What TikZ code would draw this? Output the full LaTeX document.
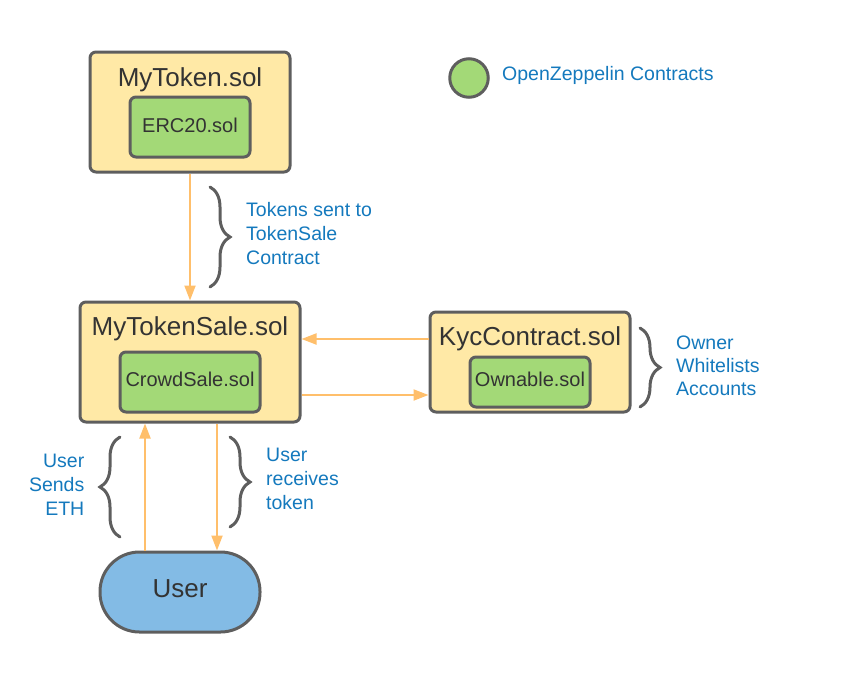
\documentclass[tikz,border=0pt]{standalone}
\usepackage{fontspec}
\setmainfont{Liberation Sans}
\usetikzlibrary{arrows.meta,decorations.pathreplacing}
\definecolor{boxyellow}{HTML}{FFE9A6}
\definecolor{boxgreen}{HTML}{A3D977}
\definecolor{boxblue}{HTML}{83BBE5}
\definecolor{edgegray}{HTML}{5E5E5E}
\definecolor{flow}{HTML}{FFBF6B}
\definecolor{labelblue}{HTML}{1479BD}
\definecolor{textdark}{HTML}{333333}
\begin{document}
\begin{tikzpicture}[x=1pt,y=-1pt,
  outerbox/.style={draw=edgegray,fill=boxyellow,line width=3pt,rounded corners=6pt,inner sep=0pt},
  innerbox/.style={draw=edgegray,fill=boxgreen,line width=3pt,rounded corners=6pt,inner sep=0pt,
     text=textdark,font=\fontsize{20}{24}\selectfont},
  titletext/.style={text=textdark,font=\fontsize{26}{30}\selectfont,inner sep=0pt,anchor=base},
  innertext/.style={text=textdark,font=\fontsize{20}{24}\selectfont,inner sep=0pt,anchor=base},
  note/.style={text=labelblue,font=\fontsize{19.5}{24}\selectfont,inner sep=0pt},
  flowarrow/.style={draw=flow,line width=2pt,-{Triangle[width=11pt,length=15pt]}},
  bracestyle/.style={draw=edgegray,line width=3pt,line cap=round,decorate,decoration={brace,amplitude=20pt}}]
\useasboundingbox (0,0) rectangle (850,672);

% MyToken
\node[outerbox,minimum width=200pt,minimum height=120pt] (mytoken) at (190,112) {};
\node[titletext] (mytokent) at (190,86) {MyToken.sol};
\node[innerbox,minimum width=120pt,minimum height=60pt] (erc) at (190,127) {};
\node[innertext] (erct) at (190,132) {ERC20.sol};

% MyTokenSale
\node[outerbox,minimum width=220pt,minimum height=120pt] (mts) at (190,362) {};
\node[titletext] (mtst) at (190,335) {MyTokenSale.sol};
\node[innerbox,minimum width=140pt,minimum height=60pt] (crowd) at (190,382) {};
\node[innertext] (crowdt) at (190,386) {CrowdSale.sol};

% KycContract
\node[outerbox,minimum width=200pt,minimum height=100pt] (kyc) at (530,362) {};
\node[titletext] (kyct) at (530,345) {KycContract.sol};
\node[innerbox,minimum width=120pt,minimum height=50pt] (own) at (530,382) {};
\node[innertext] (ownt) at (530,386) {Ownable.sol};

% User
\node[draw=edgegray,fill=boxblue,line width=3pt,rounded corners=39.5pt,inner sep=0pt,
  minimum width=160pt,minimum height=80pt] (user) at (180,592) {};
\node[titletext] (usert) at (180,597) {User};

% Legend
\node[draw=edgegray,fill=boxgreen,line width=3pt,circle,inner sep=0pt,minimum size=38.5pt] (legend) at (469,78) {};
\node[note,anchor=base west] (legendt) at (502,80) {OpenZeppelin Contracts};

% helper coordinates
\coordinate (ya) at (0,339);
\coordinate (yb) at (0,395);
\coordinate (xa) at (145,0);
\coordinate (xb) at (217,0);

% arrows
\draw[flowarrow] (mytoken.south) -- (mts.north);
\draw[flowarrow] (kyc.west |- ya) -- (mts.east |- ya);
\draw[flowarrow] (mts.east |- yb) -- (kyc.west |- yb);
\draw[flowarrow] (user.north -| xa) -- (mts.south -| xa);
\draw[flowarrow] (mts.south -| xb) -- (user.north -| xb);

% braces
\draw[bracestyle] (210,187) -- (210,287);
\draw[bracestyle] (640,328) -- (640,407);
\draw[bracestyle] (120,537) -- (120,437);
\draw[bracestyle] (230,437) -- (230,527);

% notes (base anchor = baseline of last line)
\node[note,anchor=base west,align=left] (n1) at (246,264.5) {Tokens sent to\\TokenSale\\Contract};
\node[note,anchor=base west,align=left,font=\fontsize{19.5}{23}\selectfont] (n2) at (676,395) {Owner\\Whitelists\\Accounts};
\node[note,anchor=base east,align=right] (n3) at (84.5,515) {User\\Sends\\ETH};
\node[note,anchor=base west,align=left] (n4) at (266,509.5) {User\\receives\\token};
\end{tikzpicture}
\end{document}
